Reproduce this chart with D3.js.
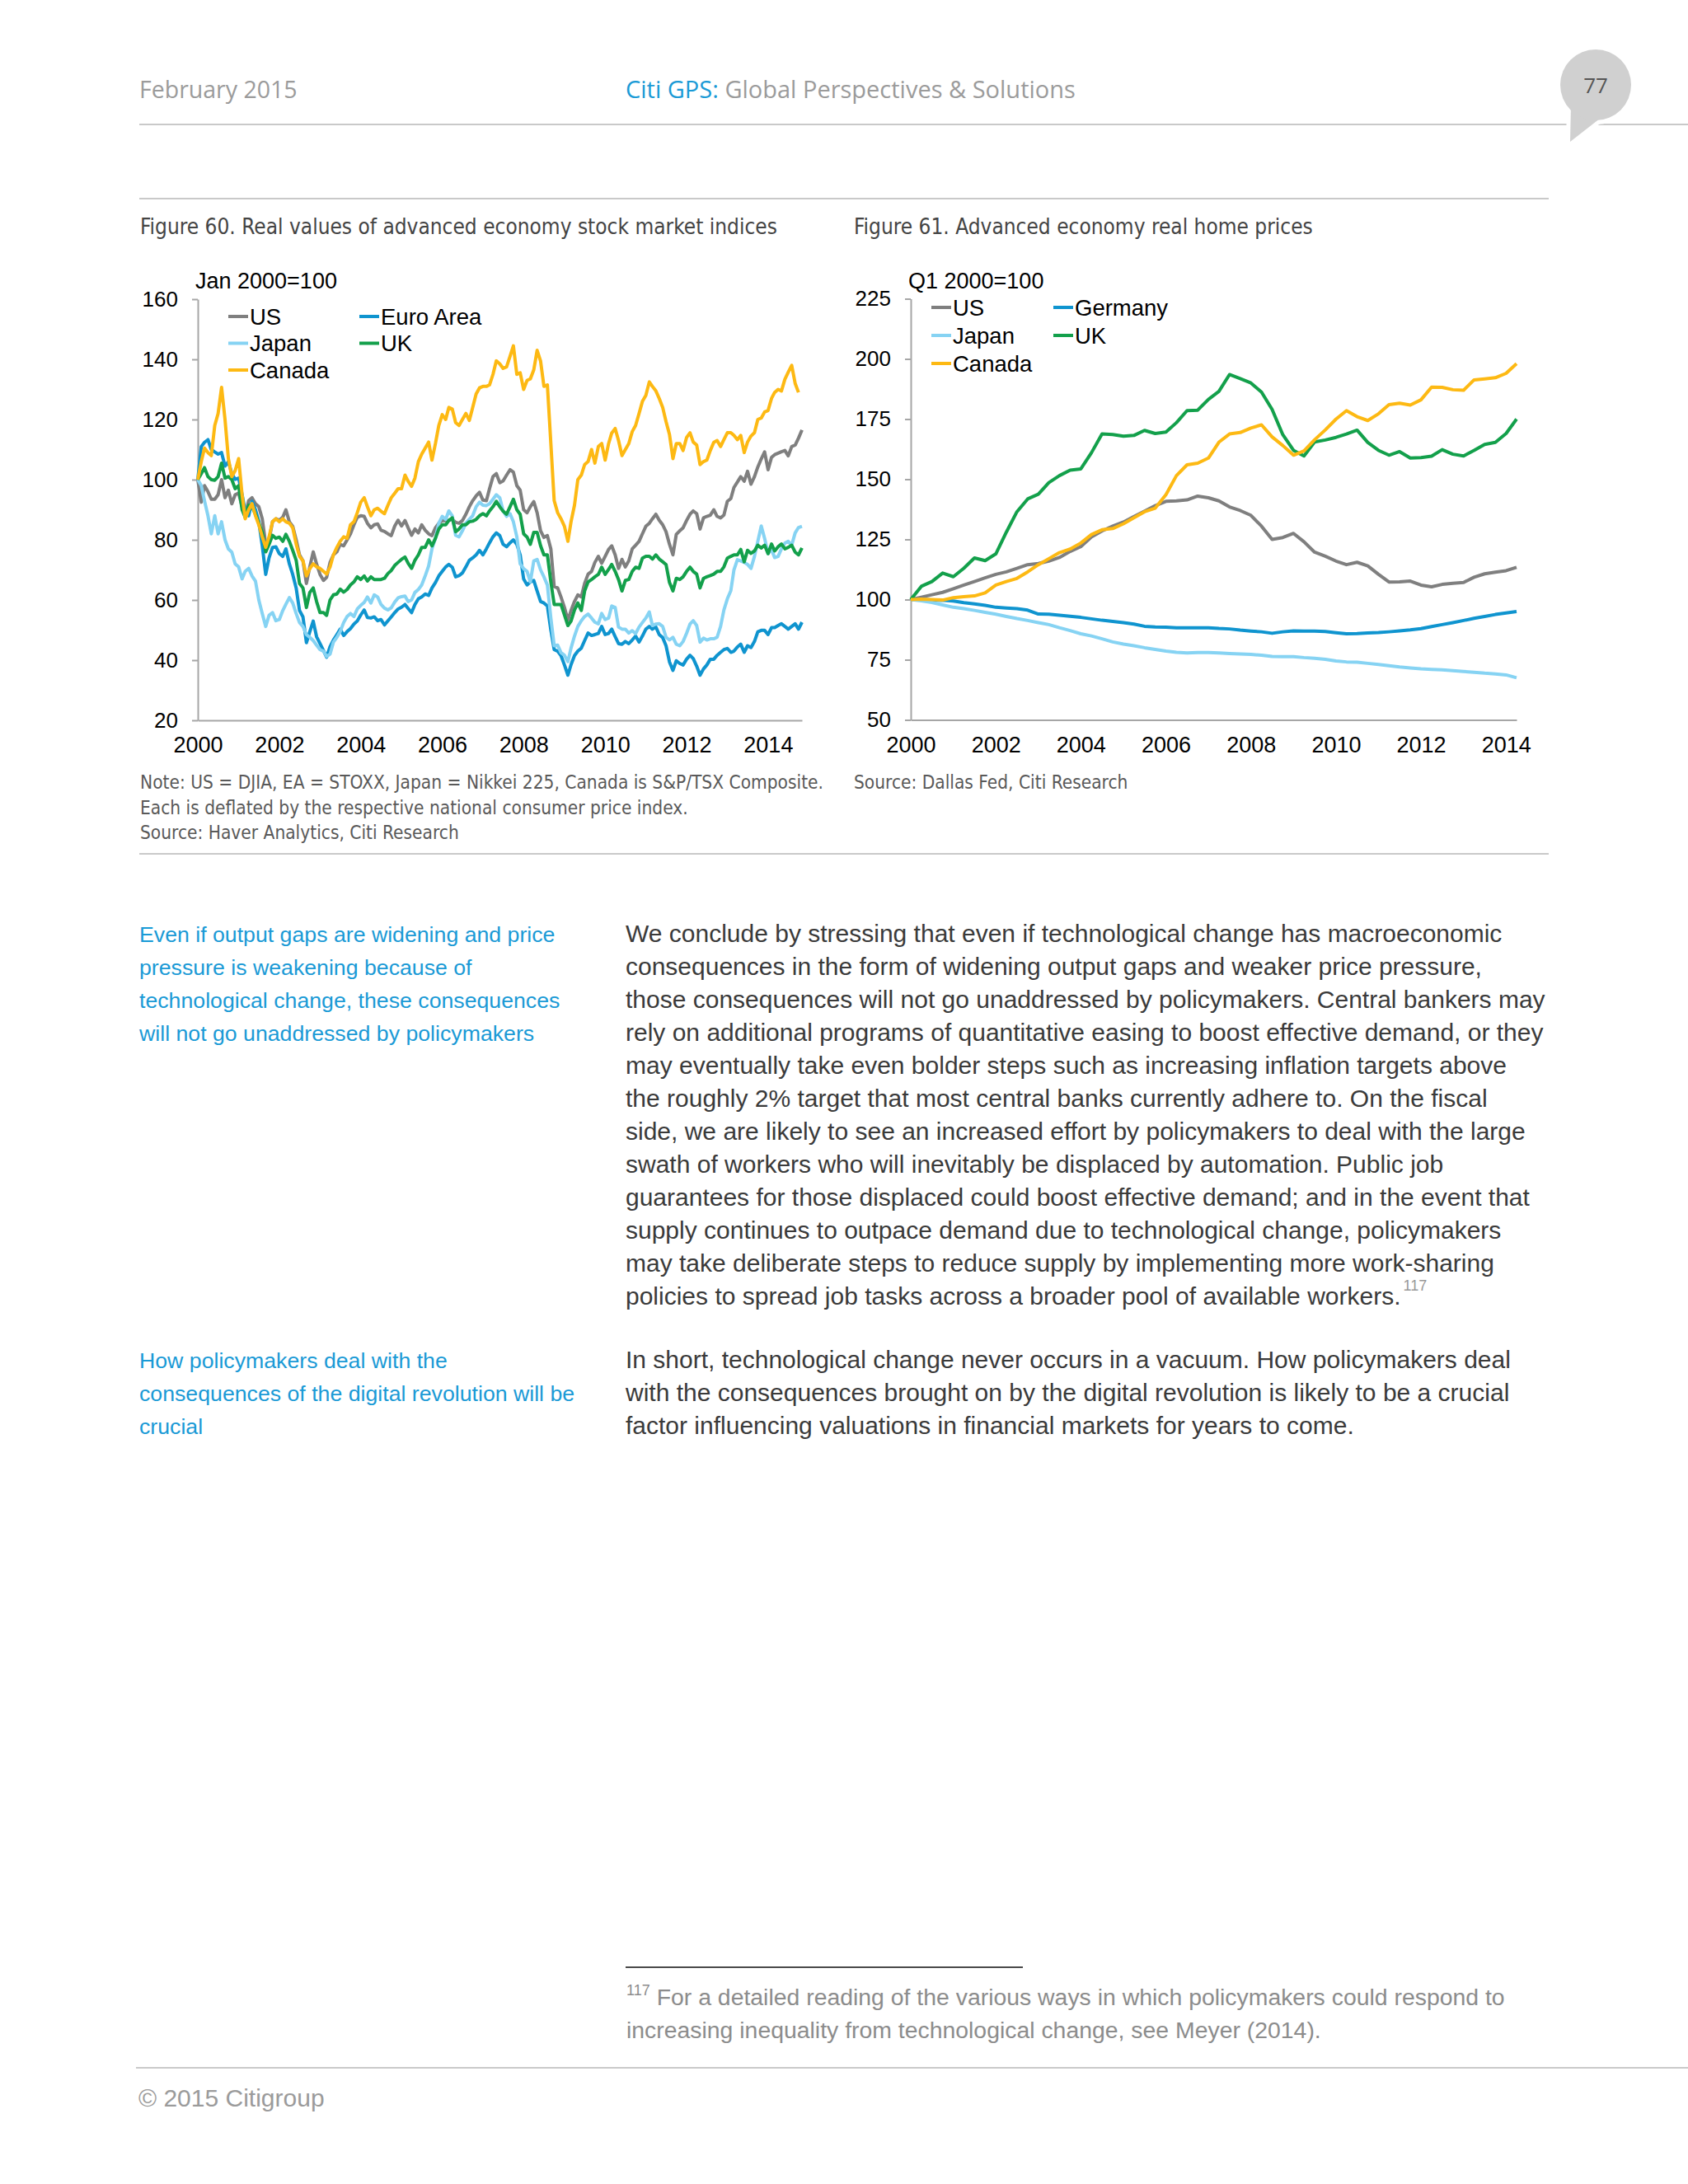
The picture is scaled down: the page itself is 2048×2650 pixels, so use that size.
<!DOCTYPE html>
<html>
<head>
<meta charset="utf-8">
<script src="https://cdn.jsdelivr.net/npm/d3@7"></script>
<style>
  body { margin: 0; background: #fff; }
  .narrow { font-family: 'Liberation Sans Narrow', 'DejaVu Sans Condensed', sans-serif; }
  .sans { font-family: 'Liberation Sans', Arial, sans-serif; }
  .head { font-family: 'Open Sans', 'Noto Sans', sans-serif; }
</style>
</head>
<body>
<svg id="page" width="2048" height="2650"></svg>
<script>
// ---- Figure 60: real stock indices, monthly from Jan 2000 (Jan 2000 = 100)
let stockStart = new Date(2000, 0, 1);
let stockEnd = new Date(2014, 10, 1);
let stockNames = ['US', 'Euro Area', 'Japan', 'UK', 'Canada'];

let stockUS = [
    100, 92.5, 98, 96, 93.5, 93.5, 95, 100, 94, 96.5, 92, 95,
    95.5, 91, 88, 93, 94, 92, 91, 87, 78.5, 80, 86, 87,
    86.5, 87.5, 90, 86, 84.5, 80, 75, 73, 65.5, 71, 76, 72,
    68.5, 66.5, 67.5, 72.5, 75, 76, 78.5, 78, 80, 82, 85, 87.5,
    88, 87.8, 85.5, 84, 85, 85.3, 83.2, 82.8, 82, 81.4, 84.6, 86.5,
    84.6, 86.4, 84, 81.5, 83.6, 82.3, 85, 83.2, 82, 81.4, 84, 85.5,
    86.4, 86.4, 86.5, 86.8, 85.8, 85.5, 86.4, 88.5, 91, 93, 94.6, 95.8,
    93.2, 93, 97, 101, 102, 99, 99.6, 101.5, 103.3, 102.5, 98, 96.5,
    90, 89, 91, 92.7, 89, 83, 80.8, 81.4, 77, 64.5, 64, 61,
    57.5, 53.3, 56.5, 59.5, 61.7, 61, 65.5, 68.6, 69.5, 72.5, 74.5, 72.2,
    74.5, 76.8, 78, 75, 70.5, 73.5, 71, 73, 77, 78.2, 79.5, 82,
    84.5, 85.5, 87, 88.5, 86.5, 85, 82.7, 78.5, 75, 81.8, 83, 84,
    86.4, 88.5, 89.6, 88.7, 83.6, 87.3, 87.8, 88.2, 90, 87.8, 87.3, 88.2,
    92.8, 93.7, 97.4, 99.2, 101, 99.5, 102.8, 98.5, 101, 104.2, 106.9, 109.2,
    103.3, 107.4, 108.3, 108.8, 109.3, 109.7, 107.9, 111, 111.5, 113.8, 116.5
];
let stockEA = [
    100, 111, 112.4, 113.3, 110, 109.2, 108.5, 109, 104.5, 106, 102, 100.1,
    100.5, 95, 89.6, 88, 92.8, 90, 86, 78, 68.5, 74, 77.5, 77.7,
    75.4, 74.5, 77, 72, 68.5, 64, 56.5, 54.4, 45.8, 49.4, 53, 47.8,
    45.5, 43.2, 41, 44.5, 46.7, 48.5, 50.3, 48.2, 49.5, 50.5, 52, 53,
    55, 56.7, 54.2, 54, 54.4, 53.1, 53.5, 51.7, 53.1, 54.4, 55.8, 57,
    57.6, 58.5, 57.2, 55.8, 58.5, 60.4, 61, 62, 61.5, 64, 65.8, 68,
    69.5, 71, 71.8, 70.9, 67.7, 68.1, 69, 71, 73.2, 74, 75, 76.5,
    75, 77, 79, 81, 82.3, 81.4, 78.5, 77.7, 79, 80, 78.5, 75,
    67, 65, 66, 66.5, 63, 59.5, 59, 58, 50, 43.5, 43, 41.5,
    38.4, 35, 38.5, 41.5, 43, 44, 46.5, 49, 48.2, 48.5, 48.9, 51.2,
    48.5, 48.9, 50.3, 47.8, 45.5, 45.3, 46.2, 45.5, 46.7, 48, 46, 48,
    50.3, 51.2, 50.3, 51, 48.5, 47.5, 44.8, 39.4, 36.6, 39.8, 38.9, 38.4,
    40.3, 41.6, 40.5, 38, 35, 37.1, 38.4, 40.3, 40.3, 41.6, 42.6, 43.5,
    43.9, 42.6, 43, 44.4, 45.3, 42.6, 44.8, 44.2, 46.2, 49.4, 49.9, 49.9,
    48.5, 50.8, 50.8, 51.5, 52.1, 51.2, 50.3, 51.2, 52.1, 50.3, 52.6
];
let stockJapan = [
    100, 98, 93, 88, 82, 88, 82, 86, 80, 77, 75.9, 72,
    71, 67, 69.5, 70.5, 68, 66.3, 60, 55.5, 51.2, 54.9, 55.8, 53.1,
    53.5, 56.5, 58.6, 60.8, 59, 55.5, 52.5, 51.2, 48.5, 47.6, 46.5, 45,
    43.5, 43, 41.2, 42, 46, 47.6, 49.5, 52.5, 54.5, 55.5, 54.5, 57,
    58.2, 59.2, 61, 59, 61.7, 61, 58.5, 57.3, 56.7, 57.4, 59.3, 60.7,
    61.1, 61.3, 59.5, 60, 62.5, 63.5, 65, 68, 71.3, 77, 80.5, 85.5,
    87.8, 86.8, 89.6, 88, 81.5, 81, 83, 85.5, 86.8, 88, 91, 92.5,
    91.5, 91.4, 92, 93.5, 95, 94, 89.6, 87.8, 88.7, 86, 81, 72,
    70.4, 69.5, 66, 73, 73.5, 70, 67.7, 64.9, 54, 44.8, 45, 42.5,
    41.6, 39.5, 44, 48, 51.2, 53.1, 54.5, 55.3, 54, 52.6, 52.1, 55.5,
    53.5, 54, 58, 57.5, 51, 50.3, 50.3, 49, 49.8, 48.8, 51, 52.5,
    54, 56, 51.5, 52, 52.1, 51.2, 47.6, 46.7, 47.6, 45.3, 44.8, 46.2,
    48.9, 52, 53.1, 51.5, 46, 47.3, 46.7, 47.1, 47.1, 47.6, 51.2, 56.7,
    60.4, 63.1, 70, 73.4, 73, 72.5, 71.8, 70.5, 74.5, 79.5, 84.6, 80.5,
    75.4, 76.8, 74.1, 74.5, 77, 78.9, 79.5, 78.2, 82.3, 84.1, 84.5
];
let stockUK = [
    100, 102, 104, 101, 100, 99.8, 101, 105.5, 100.5, 101, 100, 97,
    98, 90, 87.5, 91.5, 91, 88.5, 85.5, 82.5, 76, 78.5, 81.5, 80.5,
    80.9, 79.5, 81.8, 79.5, 76.5, 73.2, 65.5, 64, 57.5, 62.5, 64, 59.5,
    55.8, 55.8, 54.9, 60, 61.7, 62, 63.6, 62.6, 63.5, 65, 66, 67.7,
    66.8, 68, 66.3, 67.7, 66.8, 66.8, 66.8, 67.2, 68.8, 69.8, 71.5, 72.5,
    73.5, 74.3, 72.2, 70.5, 73.2, 75, 77.5, 77.5, 80, 78, 80.5, 83.6,
    85, 85, 86.4, 87.3, 82.7, 83.6, 85, 85, 86, 86.2, 86.8, 88,
    88.7, 88, 89.6, 91, 92.8, 91, 89.5, 88.5, 91, 93.5, 90, 88.5,
    82, 80.9, 78.5, 82.5, 82.5, 78, 75, 75, 66, 58.5, 58.5, 58.5,
    55, 51.5, 53, 56.7, 59, 56.5, 63, 66, 66.8, 67.7, 68.5, 70.9,
    68.5, 70.2, 71.8, 69.5, 66.8, 63, 66.5, 66.8, 69.5, 70.9, 70.5, 73.9,
    74.5, 74.5, 73.6, 75, 73.6, 72.7, 71.8, 65.8, 63, 67.2, 66.8, 67.7,
    69.5, 70.9, 69.5, 68.6, 64, 67.2, 67.7, 68.1, 68.6, 69.5, 69.5, 71,
    73.9, 74.5, 75, 75, 76.8, 72.7, 76.5, 75.5, 76.3, 78.2, 77.3, 78.2,
    75.4, 78.6, 76.3, 77.7, 78.6, 77, 77.5, 78.2, 75.9, 75, 77.3
];
let stockCanada = [
    100, 106, 110.5, 109, 108, 118, 122, 130.7, 120, 107, 101, 103,
    107, 95, 87, 90, 92, 88, 85, 81, 77.5, 81, 86, 87,
    86, 87, 86, 85.5, 84, 78.6, 74.5, 73, 68, 70.4, 72, 71,
    70.5, 69.5, 68.6, 71, 75, 77.5, 79.5, 81, 80.5, 85, 86, 89,
    92.5, 94, 91, 88, 90, 90.5, 89.5, 88.7, 91.5, 94, 95.5, 97,
    97, 101.5, 99.5, 97.8, 100.5, 106, 108.5, 110.5, 112.5, 106.5, 112, 118,
    121.6, 120, 124, 123.5, 119, 118, 120, 122, 119.7, 124, 128.5, 130.5,
    131, 131, 131.5, 135, 139.5, 138.5, 137, 137.5, 141, 144.5, 135, 135.5,
    130, 133, 133.5, 136.5, 143, 139.4, 131, 131.5, 112, 93, 89, 87,
    84.5, 79.5, 86, 91.5, 100, 101.5, 105, 106, 110, 105.5, 111, 112,
    106.5, 112, 115.5, 117, 113, 108, 110, 112, 116, 118, 122, 126,
    128, 132.5, 131, 129.5, 127, 124, 119.3, 115, 107, 112, 112, 109.7,
    114, 115.6, 112.5, 111.5, 105, 106, 106.5, 109.7, 112.4, 113, 111, 113.3,
    115.6, 115.6, 114.7, 113.3, 114.7, 109, 112.5, 114.5, 115.6, 120, 120.5, 122.5,
    123, 127, 129, 130, 129.5, 133.4, 135.7, 138, 132, 129
];
let stockTicks = [20, 40, 60, 80, 100, 120, 140, 160];

// ---- Figure 61: real home prices, quarterly from Q1 2000 (Q1 2000 = 100)
let homeStart = new Date(2000, 0, 1);
let homeEnd = new Date(2014, 3, 1);
let homeNames = ['US', 'Germany', 'Japan', 'UK', 'Canada'];

let homeUS = [
    100, 101, 102, 103, 104.5, 106, 107.5, 109, 110.5, 111.5, 113, 114.5,
    115, 116, 117.5, 120, 122, 126, 128.5, 130.5, 132.2, 134.5, 136.7, 139,
    140.8, 141, 141.4, 143, 142.3, 141, 138.5, 137, 135, 130.5, 125, 125.8,
    127.5, 124, 119.7, 118, 116, 114.5, 115.5, 114, 110.5, 107.3, 107.4, 107.7,
    106, 105.3, 106.3, 106.8, 107.1, 109.3, 110.7, 111.4, 112, 113.4
];
let homeGermany = [
    100, 100, 99.8, 99.7, 99.4, 98.7, 98.2, 97.6, 96.8, 96.5, 96.2, 95.6,
    94, 93.9, 93.5, 93.1, 92.6, 92, 91.4, 90.9, 90.4, 89.8, 88.9, 88.6,
    88.5, 88.3, 88.3, 88.3, 88.3, 88, 87.8, 87.3, 86.9, 86.6, 86, 86.6,
    87, 86.9, 86.9, 86.7, 86.2, 85.8, 85.9, 86.1, 86.3, 86.6, 87, 87.4,
    87.9, 88.8, 89.6, 90.4, 91.3, 92.2, 93, 93.8, 94.4, 95
];
let homeJapan = [
    100, 99.5, 98.8, 97.8, 96.8, 96.2, 95.5, 94.7, 93.9, 93, 92.1, 91.3,
    90.4, 89.6, 88.3, 87.1, 85.8, 84.9, 83.7, 82.4, 81.5, 80.8, 80, 79.3,
    78.6, 78.1, 77.8, 78, 78, 77.8, 77.6, 77.4, 77.2, 76.9, 76.4, 76.3,
    76.3, 75.9, 75.6, 75.2, 74.5, 74.1, 74, 73.5, 73, 72.5, 72, 71.6,
    71.2, 71, 70.8, 70.5, 70.1, 69.8, 69.4, 69.1, 68.7, 67.5
];
let homeUK = [
    100, 105.5, 107.5, 111, 109.5, 113, 117.3, 116.2, 119, 128, 136.5, 141.8,
    143.8, 148.6, 151.5, 153.8, 154.3, 161, 168.8, 168.6, 167.9, 168.2, 170.3, 169,
    169.6, 173.5, 178.5, 178.7, 183.2, 186.5, 193.5, 191.8, 190, 186.2, 179, 168.5,
    162, 159.7, 165.5, 166.3, 167.4, 168.8, 170.4, 165.3, 162, 160, 161.5, 158.8,
    159, 159.6, 162.3, 160.4, 159.7, 162, 164.5, 165.3, 169, 175
];
let homeCanada = [
    100, 100.2, 100, 99.8, 100.8, 101.2, 101.5, 102.8, 106, 107.5, 108.8, 111.5,
    114.5, 117, 119.5, 121, 123.5, 127, 129, 129.5, 131.5, 134, 136.5, 138,
    143.6, 151.5, 156, 156.7, 158.8, 165.4, 168.8, 169.4, 171.3, 172.6, 167.6, 164,
    160, 161.8, 166.4, 170.5, 175, 178.5, 176, 174.4, 177.2, 181, 181.6, 180.8,
    183, 188.3, 188.2, 187.2, 187, 191.3, 191.7, 192.2, 194, 198
];
let homeTicks = [50, 75, 100, 125, 150, 175, 200, 225];

let yearTicks = [2000, 2002, 2004, 2006, 2008, 2010, 2012, 2014];

let seriesColors = ['#7f7f7f', '#0f94cf', '#86d3f3', '#13a04b', '#fdb913'];

// ---- page
let svg = d3.select('#page');

function addLines(lines, x, y, step, cls, size, fill) {
    lines.forEach((line, i) => {
        svg.append('text')
            .attr('class', cls)
            .attr('x', x)
            .attr('y', y + i * step)
            .attr('font-size', size)
            .attr('fill', fill)
            .text(line);
    });
}

function rule(x1, x2, y, color) {
    svg.append('line')
        .attr('x1', x1).attr('x2', x2)
        .attr('y1', y).attr('y2', y)
        .attr('stroke', color)
        .attr('stroke-width', 2);
}

// header
svg.append('text').attr('class', 'head')
    .attr('x', 169).attr('y', 119)
    .attr('font-size', 28.5).attr('fill', '#9b9b9b')
    .text('February 2015');

let hdr = svg.append('text').attr('class', 'head')
    .attr('x', 759).attr('y', 119)
    .attr('font-size', 29);
hdr.append('tspan').attr('fill', '#1a9ad6').text('Citi GPS: ');
hdr.append('tspan').attr('fill', '#9b9b9b').text('Global Perspectives & Solutions');

rule(169, 2048, 151, '#c9c9c9');

// page number bubble
let tail = 'M1906,128 L1946,140 L1905,172 Z';
svg.append('path').attr('d', tail).attr('fill', '#fff').attr('stroke', '#fff').attr('stroke-width', 10);
svg.append('circle').attr('cx', 1936).attr('cy', 103).attr('r', 43)
    .attr('fill', '#fff').attr('stroke', '#fff').attr('stroke-width', 10);
svg.append('path').attr('d', tail).attr('fill', '#d0d0d0');
svg.append('circle').attr('cx', 1936).attr('cy', 103).attr('r', 43).attr('fill', '#d0d0d0');
svg.append('text').attr('class', 'head')
    .attr('x', 1936).attr('y', 113)
    .attr('text-anchor', 'middle')
    .attr('font-size', 26).attr('fill', '#555')
    .text('77');

rule(169, 1879, 241, '#c9c9c9');
rule(169, 1879, 1036, '#c9c9c9');

// ---- chart drawing
function drawChart(opts) {
    let g = svg.append('g');

    let x = d3.scaleTime().domain([opts.start, opts.end]).range([opts.left, opts.right]);
    let y = d3.scaleLinear().domain(opts.yDomain).range([opts.bottom, opts.top]);

    g.append('text').attr('class', 'narrow')
        .attr('x', opts.titleX).attr('y', 284)
        .attr('font-size', 26).attr('fill', '#444')
        .text(opts.title);

    g.append('text').attr('class', 'sans')
        .attr('x', opts.left - 3).attr('y', 350)
        .attr('font-size', 27).attr('fill', '#000')
        .text(opts.unit);

    let yAxis = g.append('g')
        .attr('transform', 'translate(' + opts.left + ',0)')
        .call(d3.axisLeft(y).tickValues(opts.yTicks).tickSize(7).tickSizeOuter(0).tickPadding(17));

    let xAxis = g.append('g')
        .attr('transform', 'translate(0,' + opts.bottom + ')')
        .call(d3.axisBottom(x)
            .tickValues(yearTicks.map(yr => new Date(yr, 0, 1)))
            .tickFormat(d3.timeFormat('%Y'))
            .tickSize(0).tickSizeOuter(0).tickPadding(20));

    [yAxis, xAxis].forEach(ax => {
        ax.select('.domain').attr('stroke', '#a6a6a6').attr('stroke-width', 2);
        ax.selectAll('.tick line').attr('stroke', '#a6a6a6').attr('stroke-width', 2);
        ax.selectAll('.tick text')
            .attr('class', 'sans')
            .attr('fill', '#000');
    });
    yAxis.selectAll('.tick text').attr('font-size', 26);
    xAxis.selectAll('.tick text').attr('font-size', 27);

    let line = d3.line()
        .x((d, i) => x(opts.dateOf(i)))
        .y(d => y(d));

    opts.series.forEach((values, k) => {
        g.append('path')
            .datum(values)
            .attr('fill', 'none')
            .attr('stroke', seriesColors[k])
            .attr('stroke-width', 4)
            .attr('stroke-linejoin', 'round')
            .attr('d', line);
    });

    // legend, two columns
    opts.names.forEach((name, k) => {
        let lx = opts.legendX[k % 2];
        let ly = opts.legendY + Math.floor(k / 2) * opts.legendStep;
        g.append('line')
            .attr('x1', lx).attr('x2', lx + 24)
            .attr('y1', ly).attr('y2', ly)
            .attr('stroke', seriesColors[k])
            .attr('stroke-width', 4);
        g.append('text').attr('class', 'sans')
            .attr('x', lx + 26).attr('y', ly)
            .attr('dy', '0.35em')
            .attr('font-size', 27.5).attr('fill', '#000')
            .text(name);
    });

    addLines(opts.notes, opts.titleX, 957, 30.5, 'narrow', 22.5, '#595959');
}

drawChart({
    title: 'Figure 60. Real values of advanced economy stock market indices',
    titleX: 170,
    unit: 'Jan 2000=100',
    start: stockStart, end: stockEnd,
    dateOf: i => d3.timeMonth.offset(stockStart, i),
    left: 240, right: 973, top: 363, bottom: 874,
    yDomain: [20, 160], yTicks: stockTicks,
    series: [stockUS, stockEA, stockJapan, stockUK, stockCanada],
    names: stockNames,
    legendX: [277, 436], legendY: 384, legendStep: 32.5,
    notes: [
        'Note: US = DJIA, EA = STOXX, Japan = Nikkei 225, Canada is S&P/TSX Composite.',
        'Each is deflated by the respective national consumer price index.',
        'Source: Haver Analytics, Citi Research'
    ]
});

drawChart({
    title: 'Figure 61. Advanced economy real home prices',
    titleX: 1036,
    unit: 'Q1 2000=100',
    start: homeStart, end: homeEnd,
    dateOf: i => d3.timeMonth.offset(homeStart, 3 * i),
    left: 1105, right: 1840, top: 362.5, bottom: 873.5,
    yDomain: [50, 225], yTicks: homeTicks,
    series: [homeUS, homeGermany, homeJapan, homeUK, homeCanada],
    names: homeNames,
    legendX: [1130, 1278], legendY: 373, legendStep: 34,
    notes: ['Source: Dallas Fed, Citi Research']
});

// ---- body text
addLines([
    'Even if output gaps are widening and price',
    'pressure is weakening because of',
    'technological change, these consequences',
    'will not go unaddressed by policymakers'
], 169, 1143, 40, 'sans', 26.7, '#1a9ad6');

let para1 = [
    'We conclude by stressing that even if technological change has macroeconomic',
    'consequences in the form of widening output gaps and weaker price pressure,',
    'those consequences will not go unaddressed by policymakers. Central bankers may',
    'rely on additional programs of quantitative easing to boost effective demand, or they',
    'may eventually take even bolder steps such as increasing inflation targets above',
    'the roughly 2% target that most central banks currently adhere to. On the fiscal',
    'side, we are likely to see an increased effort by policymakers to deal with the large',
    'swath of workers who will inevitably be displaced by automation. Public job',
    'guarantees for those displaced could boost effective demand; and in the event that',
    'supply continues to outpace demand due to technological change, policymakers',
    'may take deliberate steps to reduce supply by implementing more work-sharing',
    'policies to spread job tasks across a broader pool of available workers.'
];
addLines(para1, 759, 1143, 40, 'sans', 30, '#3a3a3a');

let lastLine = svg.selectAll('text').filter(function () {
    return d3.select(this).text() === para1[para1.length - 1];
});
lastLine.append('tspan')
    .attr('dy', -17).attr('dx', 3).attr('font-size', 18).attr('fill', '#999')
    .text('117');

addLines([
    'How policymakers deal with the',
    'consequences of the digital revolution will be',
    'crucial'
], 169, 1660, 40, 'sans', 26.7, '#1a9ad6');

addLines([
    'In short, technological change never occurs in a vacuum. How policymakers deal',
    'with the consequences brought on by the digital revolution is likely to be a crucial',
    'factor influencing valuations in financial markets for years to come.'
], 759, 1660, 40, 'sans', 30, '#3a3a3a');

// ---- footnote and footer
svg.append('line')
    .attr('x1', 759).attr('x2', 1241)
    .attr('y1', 2387).attr('y2', 2387)
    .attr('stroke', '#4a4a4a').attr('stroke-width', 2);

let fn = svg.append('text').attr('class', 'sans')
    .attr('x', 760).attr('y', 2433)
    .attr('font-size', 28.4).attr('fill', '#8c8c8c');
fn.append('tspan').attr('font-size', 18).attr('dy', -12).text('117');
fn.append('tspan').attr('dy', 12).attr('dx', 8)
    .text('For a detailed reading of the various ways in which policymakers could respond to');

addLines(['increasing inequality from technological change, see Meyer (2014).'],
    760, 2473, 40, 'sans', 28.4, '#8c8c8c');

rule(165, 2048, 2509, '#c9c9c9');

svg.append('text').attr('class', 'sans')
    .attr('x', 168).attr('y', 2556)
    .attr('font-size', 30).attr('fill', '#9b9b9b')
    .text('\u00a9 2015 Citigroup');
</script>
</body>
</html>
